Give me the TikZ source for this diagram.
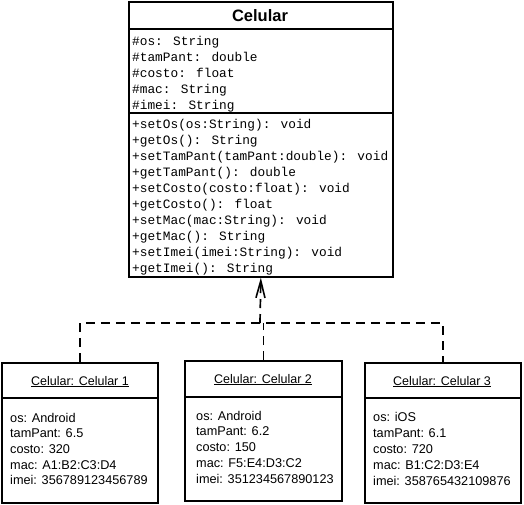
\documentclass[tikz,border=0pt]{standalone}
\usepackage{fontspec}
\setmainfont{Liberation Sans}
\newfontfamily\monof{Liberation Mono}
\usetikzlibrary{arrows.meta}
\tikzset{
  umlbox/.style={draw, line width=1.7pt, inner sep=0pt, anchor=north west},
  divider/.style={line width=1.7pt},
  mono/.style={font=\monof\fontsize{12.8}{15}\selectfont, anchor=base west, inner sep=0pt},
  objtxt/.style={font=\fontsize{12.7}{15}\selectfont, anchor=base west, inner sep=0pt},
  objtitle/.style={font=\fontsize{12.5}{15}\selectfont, anchor=base, inner sep=0pt},
  clstitle/.style={font=\bfseries\fontsize{16.5}{18}\selectfont, anchor=base, inner sep=0pt},
  dashline/.style={line width=1.7pt, dash pattern=on 9pt off 6pt},
  realize/.style={dashline, -{Straight Barb[length=17pt,width=9pt,line width=1.6pt]}},
}
\begin{document}
\begin{tikzpicture}[x=1pt,y=-1pt]
\useasboundingbox[fill=white] (0,0) rectangle (524,504);
% class box
\node[umlbox, minimum width=264pt, minimum height=275pt] (cls) at (128,1) {};
\draw[divider] (128,29) -- (392,29);
\draw[divider] (128,113) -- (392,113);
\node[clstitle] (clsname) at (260,21) {Celular};
\foreach \t [count=\i] in {{\#os: String},{\#tamPant: double},{\#costo: float},{\#mac: String},{\#imei: String}}
  \node[mono] (attr\i) at (132,{45+16*(\i-1)}) {\t};
\foreach \t [count=\i] in {{+setOs(os:String): void},{+getOs(): String},{+setTamPant(tamPant:double): void},{+getTamPant(): double},{+setCosto(costo:float): void},{+getCosto(): float},{+setMac(mac:String): void},{+getMac(): String},{+setImei(imei:String): void},{+getImei(): String}}
  \node[mono] (meth\i) at (132,{128+16*(\i-1)}) {\t};
% object boxes
\node[umlbox, minimum width=156pt, minimum height=140pt] (o1) at (1,362) {};
\node[umlbox, minimum width=157pt, minimum height=140pt] (o2) at (184,360) {};
\node[umlbox, minimum width=156pt, minimum height=140pt] (o3) at (364,362) {};
\draw[divider] (1,398) -- (157,398);
\draw[divider] (184,397) -- (341,397);
\draw[divider] (364,398) -- (520,398);
\node[objtitle] (o1t) at (80,385) {\underline{Celular: Celular 1}};
\node[objtitle] (o2t) at (263,383) {\underline{Celular: Celular 2}};
\node[objtitle] (o3t) at (442,385) {\underline{Celular: Celular 3}};
\foreach \t [count=\i] in {{os: Android},{tamPant: 6.5},{costo: 320},{mac: A1:B2:C3:D4},{imei: 356789123456789}}
  \node[objtxt] (oa\i) at (10,{422+15.7*(\i-1)}) {\t};
\foreach \t [count=\i] in {{os: Android},{tamPant: 6.2},{costo: 150},{mac: F5:E4:D3:C2},{imei: 351234567890123}}
  \node[objtxt] (ob\i) at (196,{420+15.9*(\i-1)}) {\t};
\foreach \t [count=\i] in {{os: iOS},{tamPant: 6.1},{costo: 720},{mac: B1:C2:D3:E4},{imei: 358765432109876}}
  \node[objtxt] (oc\i) at (373,{421+16*(\i-1)}) {\t};
% connectors
\coordinate (jn) at (260,323);
\draw[dashline] (o1.north) -- (o1.north |- jn) -- (o3.north |- jn) -- (o3.north);
\draw[dashline] (o2.north) -- (o2.north |- jn);
\draw[realize] (jn) -- (cls.south);
\end{tikzpicture}
\end{document}
